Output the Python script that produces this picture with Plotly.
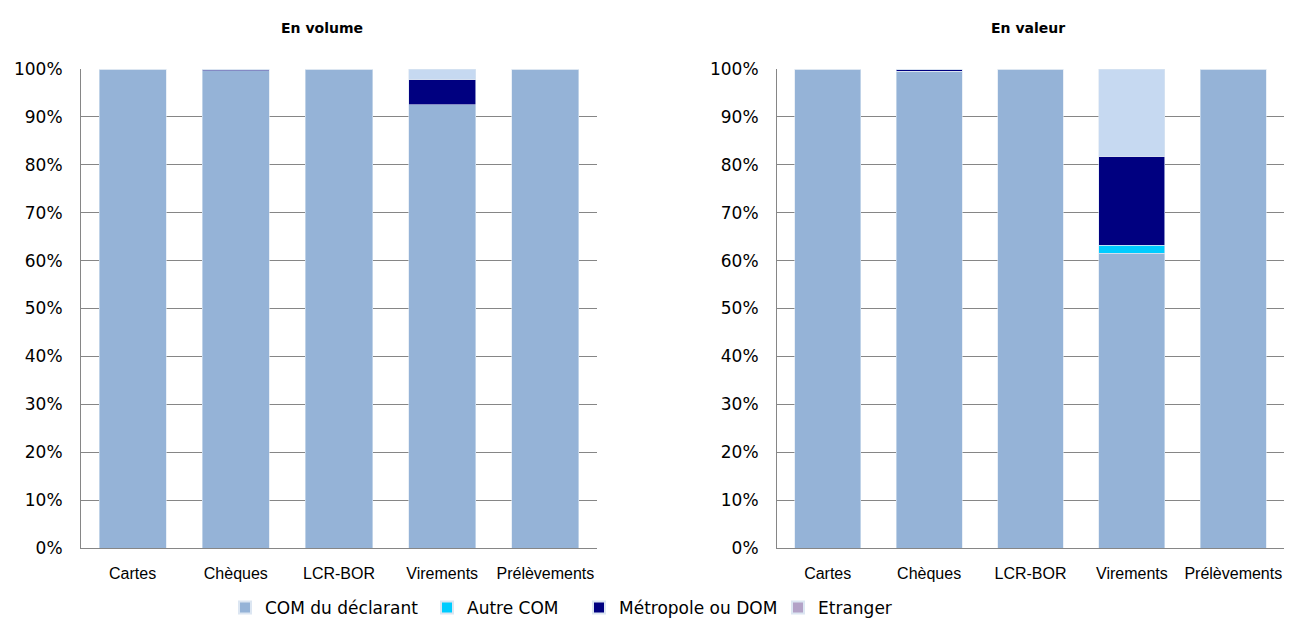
import plotly.graph_objects as go

categories = ["Cartes", "Chèques", "LCR-BOR", "Virements", "Prélèvements"]

# En volume (%)
vol_com_declarant = [100.0, 99.6, 100.0, 92.5, 100.0]
vol_autre_com = [0.0, 0.0, 0.0, 0.0, 0.0]
vol_metropole_dom = [0.0, 0.4, 0.0, 5.4, 0.0]
vol_etranger = [0.0, 0.0, 0.0, 0.0, 0.0]
vol_autres = [0.0, 0.0, 0.0, 2.1, 0.0]

# En valeur (%)
val_com_declarant = [100.0, 99.5, 100.0, 61.5, 100.0]
val_autre_com = [0.0, 0.0, 0.0, 1.7, 0.0]
val_metropole_dom = [0.0, 0.5, 0.0, 18.6, 0.0]
val_etranger = [0.0, 0.0, 0.0, 0.0, 0.0]
val_autres = [0.0, 0.0, 0.0, 18.2, 0.0]

series_names = ["COM du déclarant", "Autre COM", "Métropole ou DOM", "Etranger", "Autres"]
colors = ["#95B3D7", "#00CCFF", "#000080", "#B3A2C7", "#C6D9F1"]
legend_ids = ["legend", "legend2", "legend3", "legend4", None]

vol = [vol_com_declarant, vol_autre_com, vol_metropole_dom, vol_etranger, vol_autres]
val = [val_com_declarant, val_autre_com, val_metropole_dom, val_etranger, val_autres]

fig = go.Figure()
for i, name in enumerate(series_names):
    for data, xa, ya, first in [(vol, "x", "y", True), (val, "x2", "y2", False)]:
        kw = dict(
            x=categories, y=data[i], name=name, xaxis=xa, yaxis=ya,
            marker=dict(color=colors[i], line=dict(color="#DCE6F2", width=0.6)),
            hoverinfo="name+y",
        )
        if legend_ids[i] is not None and first:
            kw["legend"] = legend_ids[i]
            kw["showlegend"] = True
        else:
            kw["showlegend"] = False
        fig.add_trace(go.Bar(**kw))

W, H = 1291, 625
y_dom = [1 - 548 / H, 1 - 69 / H]
tickfont = dict(family="DejaVu Sans", size=17, color="#000000")
catfont = dict(family="Liberation Sans", size=16, color="#000000")

yaxis_common = dict(
    range=[0, 100], dtick=10, ticksuffix="%", tickfont=tickfont,
    showgrid=True, gridcolor="#868686", gridwidth=1,
    showline=True, linecolor="#868686", linewidth=1,
    ticks="", ticklabelstandoff=14, zeroline=False, fixedrange=True,
    domain=y_dom,
)
xaxis_common = dict(
    tickfont=catfont, showline=True, linecolor="#868686", linewidth=1,
    ticks="", showgrid=False, fixedrange=True, ticklabelstandoff=11,
)

legend_base = dict(
    orientation="h", yanchor="middle", y=1 - 608 / H, xanchor="left",
    font=dict(family="DejaVu Sans", size=17, color="#000000"),
    bgcolor="rgba(0,0,0,0)", borderwidth=0, itemsizing="constant",
)
text_starts = [265, 467, 619, 818]

fig.update_layout(
    width=W, height=H,
    margin=dict(l=0, r=0, t=0, b=0, autoexpand=False),
    paper_bgcolor="#FFFFFF", plot_bgcolor="#FFFFFF",
    barmode="stack", bargap=0.35,
    xaxis=dict(domain=[81 / W, 597 / W], anchor="y", **xaxis_common),
    yaxis=dict(anchor="x", **yaxis_common),
    xaxis2=dict(domain=[777 / W, 1284 / W], anchor="y2", **xaxis_common),
    yaxis2=dict(anchor="x2", **yaxis_common),
    legend=dict(x=(text_starts[0] - 40) / W, **legend_base),
    legend2=dict(x=(text_starts[1] - 40) / W, **legend_base),
    legend3=dict(x=(text_starts[2] - 40) / W, **legend_base),
    legend4=dict(x=(text_starts[3] - 40) / W, **legend_base),
    annotations=[
        dict(text="<b>En volume</b>", x=322 / W, y=1 - 28 / H, xref="paper", yref="paper",
             showarrow=False, font=dict(family="DejaVu Sans", size=14, color="#000000"),
             xanchor="center", yanchor="middle"),
        dict(text="<b>En valeur</b>", x=1028 / W, y=1 - 28 / H, xref="paper", yref="paper",
             showarrow=False, font=dict(family="DejaVu Sans", size=14, color="#000000"),
             xanchor="center", yanchor="middle"),
    ],
)

fig.write_html("out.html")
